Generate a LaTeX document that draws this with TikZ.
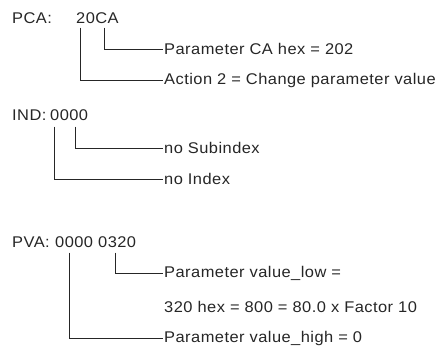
\documentclass[tikz,border=0pt]{standalone}
\usepackage{fontspec}
\setmainfont{Liberation Sans}[FakeStretch=1.06,LetterSpace=3]

\begin{document}
\begin{tikzpicture}[x=1pt,y=-1pt,
	txt/.style={anchor=west,inner sep=0pt,font=\fontsize{15.5}{18}\selectfont,text=black!85},
	lead/.style={line width=0.9pt,black!85}]
	\useasboundingbox (0,0) rectangle (439,350);
	% PCA
	\node[txt] (pca) at (12,18) {PCA:};
	\node[txt] (pcaval) at (76,18) {20CA};
	\node[txt] (canote) at (164,49) {Parameter CA hex = 202};
	\node[txt] (actnote) at (164,80) {Action 2 = Change parameter value};
	\draw[lead] ([xshift=28pt,yshift=-4pt]pcaval.south west) |- ([xshift=-1pt]canote.west);
	\draw[lead] ([xshift=4pt,yshift=-4pt]pcaval.south west) |- ([xshift=-1pt]actnote.west);
	% IND
	\node[txt] (ind) at (12,115) {IND:};
	\node[txt] (indval) at (50,115) {0000};
	\node[txt] (subnote) at (164,148) {no Subindex};
	\node[txt] (idxnote) at (164,179) {no Index};
	\draw[lead] ([xshift=25pt,yshift=-6pt]indval.south west) |- ([xshift=-1pt]subnote.west);
	\draw[lead] ([xshift=4pt,yshift=-6pt]indval.south west) |- ([xshift=-1pt]idxnote.west);
	% PVA
	\node[txt] (pva) at (12,242) {PVA:};
	\node[txt] (pvaval) at (55,242) {0000 0320};
	\node[txt] (lownote) at (164,273) {Parameter value\_low =};
	\node[txt] (lowcont) at (164,307) {320 hex = 800 = 80.0 x Factor 10};
	\node[txt] (highnote) at (164,338) {Parameter value\_high = 0};
	\draw[lead] ([xshift=60pt,yshift=-5pt]pvaval.south west) |- ([xshift=-1pt]lownote.west);
	\draw[lead] ([xshift=14pt,yshift=-5pt]pvaval.south west) |- ([xshift=-1pt]highnote.west);
\end{tikzpicture}
\end{document}
